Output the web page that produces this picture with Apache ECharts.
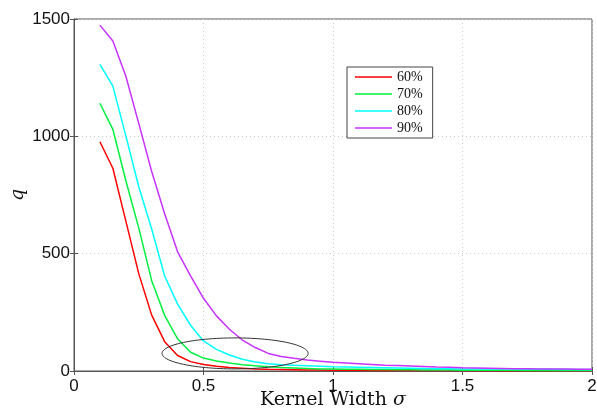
<!DOCTYPE html>
<html>
<head>
<meta charset="utf-8">
<script src="https://cdn.jsdelivr.net/npm/echarts@6/dist/echarts.min.js"></script>
<style>html,body{margin:0;padding:0;background:#fff}#c{width:597px;height:408px}</style>
</head>
<body>
<div id="c"></div>
<script>
const sigma = [0.1,0.15,0.2,0.25,0.3,0.35,0.4,0.45,0.5,0.55,0.6,0.65,0.7,0.75,0.8,0.85,0.9,0.95,1.0,1.05,1.1,1.15,1.2,1.25,1.3,1.35,1.4,1.45,1.5,1.55,1.6,1.65,1.7,1.75,1.8,1.85,1.9,1.95,2.0];
const q60 = [977,864,640,415,238,125,66,40,28,20,15,12,9,7,6,5,4,4,3,3,3,2,2,2,2,2,2,2,2,1,1,1,1,1,1,1,1,1,1];
const q70 = [1141,1030,812,610,385,237,137,80,55,43,34,27,22,18,15,13,11,9,8,7,7,6,6,5,5,4,4,4,3,3,3,3,3,2,2,2,2,2,2];
const q80 = [1307,1214,1003,785,605,405,285,195,128,92,68,50,38,31,27,24,22,20,18,17,16,15,14,13,12,11,10,10,9,9,8,8,8,7,7,7,6,6,6];
const q90 = [1474,1406,1257,1055,850,670,508,405,310,235,178,132,100,75,62,54,47,42,37,34,31,28,25,23,21,19,17,15.5,14,13,12,11,10,9.5,9,8.5,8,7.5,7];
const seriesNames = ['60%','70%','80%','90%'];
const seriesColors = ['#ff0000','#00f040','#00ffff','#c832ff'];
const xTicks = [0,0.5,1,1.5,2];
const yTicks = [0,500,1000,1500];
// annotation ellipse: centre x, centre q, half-width (x), half-height (q)
const ellipse = [[0.622, 75, 0.282, 66]];

const allQ = [q60,q70,q80,q90];
const chart = echarts.init(document.getElementById('c'));
const labelFont = {fontFamily:'Liberation Sans', fontSize:17, color:'#111'};
const series = allQ.map((arr,i)=>({
  name: seriesNames[i], type:'line', xAxisIndex:0, yAxisIndex:0,
  data: sigma.map((s,j)=>[s,arr[j]]),
  showSymbol:false, symbol:'none', smooth:false,
  lineStyle:{color:seriesColors[i], width:1.5},
  itemStyle:{color:seriesColors[i]},
  z: 3, animation:false
}));
series.push({
  type:'custom', xAxisIndex:0, yAxisIndex:0, data: ellipse, animation:false, silent:true, z:4,
  renderItem: function(params, api){
    const c = api.coord([api.value(0), api.value(1)]);
    const ex = api.coord([api.value(0)+api.value(2), api.value(1)]);
    const ey = api.coord([api.value(0), api.value(1)+api.value(3)]);
    const rx = Math.abs(ex[0]-c[0]), ry = Math.abs(c[1]-ey[1]);
    const pts = [];
    for (let k=0;k<=120;k++){ const t=k/120*2*Math.PI; pts.push([c[0]+rx*Math.cos(t), c[1]+ry*Math.sin(t)]); }
    return {type:'polyline', shape:{points:pts}, style:{stroke:'#333', lineWidth:1, fill:null}};
  }
});
chart.setOption({
  animation:false,
  backgroundColor:'#fff',
  grid:{left:74, right:5, top:19, bottom:37, show:true, borderColor:'#555', borderWidth:1, containLabel:false, outerBoundsMode:'none'},
  legend:{
    data: seriesNames, orient:'vertical', left:347, top:67,
    icon:'rect', itemWidth:37, itemHeight:1.5, itemGap:3,
    backgroundColor:'#fff', borderColor:'#444', borderWidth:1, borderRadius:0,
    padding:[3,10,3,8],
    textStyle:{fontFamily:'Liberation Serif', fontSize:14, color:'#111', lineHeight:14}
  },
  xAxis:[{
    type:'value', min:0, max:2, interval:0.5,
    axisLine:{show:true, lineStyle:{color:'#555'}},
    axisTick:{show:true, inside:true, length:4, lineStyle:{color:'#555'}},
    splitLine:{show:true, lineStyle:{color:'#ccc', type:[1,3]}},
    axisLabel:Object.assign({margin:7, formatter:v=>xTicks.includes(v)?String(v):''}, labelFont),
    name:'{a|Kernel Width }{b|σ}', nameLocation:'middle', nameGap:20, nameMoveOverlap:false,
    nameTextStyle:{rich:{a:{fontFamily:'DejaVu Serif', fontSize:19, color:'#111'}, b:{fontFamily:'DejaVu Serif', fontStyle:'italic', fontSize:19, color:'#111'}}}
  },{
    type:'value', min:0, max:2, interval:0.5, position:'top',
    axisLine:{show:false}, axisTick:{show:true, inside:true, length:4, lineStyle:{color:'#555'}},
    axisLabel:{show:false}, splitLine:{show:false}
  }],
  yAxis:[{
    type:'value', min:0, max:1500, interval:500,
    axisLine:{show:true, lineStyle:{color:'#555'}},
    axisTick:{show:true, inside:true, length:4, lineStyle:{color:'#555'}},
    splitLine:{show:true, lineStyle:{color:'#ccc', type:[1,3]}},
    axisLabel:Object.assign({margin:4, formatter:v=>yTicks.includes(v)?String(v):''}, labelFont),
    name:'q', nameLocation:'middle', nameGap:46, nameRotate:90, nameMoveOverlap:false,
    nameTextStyle:{fontFamily:'DejaVu Serif', fontStyle:'italic', fontSize:19, color:'#111'}
  },{
    type:'value', min:0, max:1500, interval:500, position:'right',
    axisLine:{show:false}, axisTick:{show:true, inside:true, length:4, lineStyle:{color:'#555'}},
    axisLabel:{show:false}, splitLine:{show:false}
  }],
  series: series
});
</script>
</body>
</html>
